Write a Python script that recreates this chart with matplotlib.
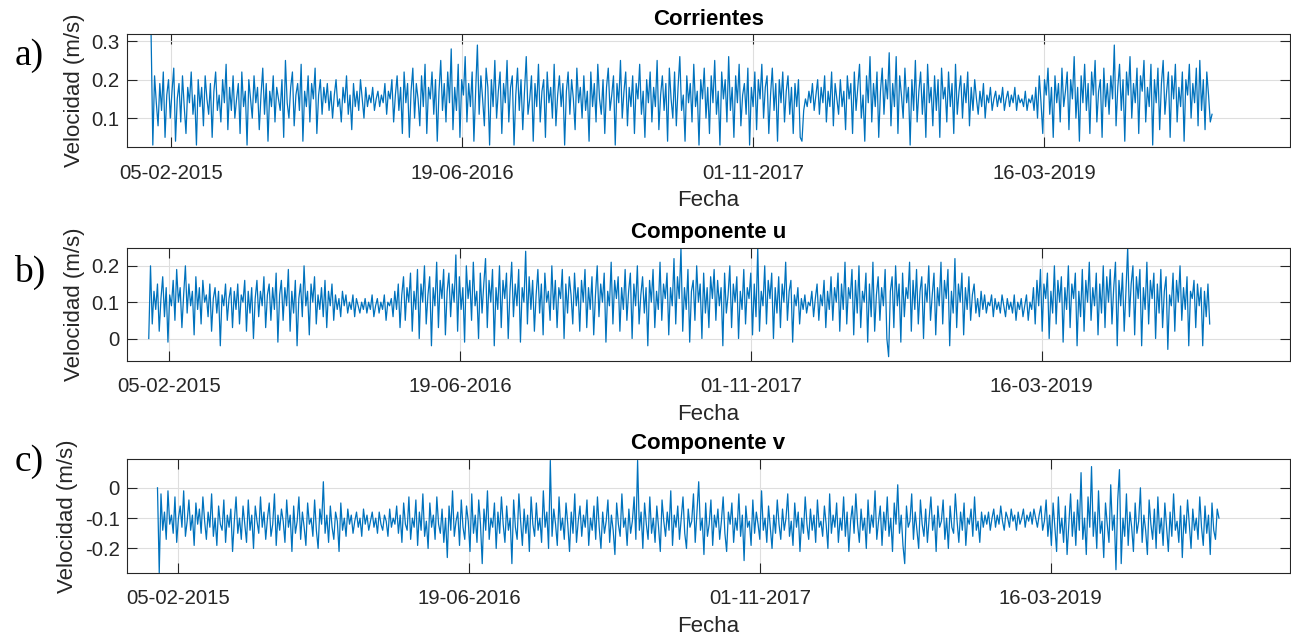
import matplotlib
matplotlib.use('Agg')
import matplotlib.pyplot as plt
import matplotlib.dates as mdates
import numpy as np
import pandas as pd

plt.rcParams['font.family'] = ['Liberation Sans', 'DejaVu Sans']
plt.rcParams['axes.unicode_minus'] = False

# series sampled every 3 days starting 2015-01-01
start = '2015-01-01'
step_days = 3

corrientes = [
    0.32, 0.03, 0.21, 0.14, 0.08, 0.19, 0.12, 0.22, 0.05, 0.16, 0.20, 0.10, 0.17, 0.23, 0.04, 0.15, 0.19, 0.09, 0.21, 0.13, 0.06, 0.18, 0.14, 0.22, 0.11,
    0.16, 0.03, 0.20, 0.13, 0.18, 0.08, 0.21, 0.15, 0.11, 0.19, 0.05, 0.17, 0.22, 0.12, 0.16, 0.09, 0.20, 0.14, 0.24, 0.07, 0.18, 0.12, 0.21, 0.10, 0.15,
    0.19, 0.06, 0.22, 0.13, 0.17, 0.03, 0.20, 0.15, 0.10, 0.21, 0.14, 0.18, 0.07, 0.16, 0.23, 0.11, 0.19, 0.04, 0.17, 0.13, 0.21, 0.09, 0.18, 0.15, 0.12,
    0.20, 0.05, 0.25, 0.14, 0.10, 0.18, 0.22, 0.08, 0.16, 0.19, 0.12, 0.24, 0.04, 0.17, 0.13, 0.21, 0.09, 0.19, 0.15, 0.23, 0.06, 0.16, 0.20, 0.11, 0.18,
    0.14, 0.19, 0.12, 0.17, 0.10, 0.16, 0.20, 0.13, 0.15, 0.09, 0.18, 0.14, 0.21, 0.11, 0.16, 0.07, 0.19, 0.13, 0.17, 0.12, 0.20, 0.15, 0.10, 0.18, 0.13,
    0.16, 0.14, 0.18, 0.12, 0.15, 0.17, 0.13, 0.16, 0.14, 0.19, 0.11, 0.17, 0.15, 0.20, 0.09, 0.16, 0.21, 0.12, 0.18, 0.06, 0.22, 0.14, 0.19, 0.05, 0.17,
    0.23, 0.10, 0.19, 0.15, 0.08, 0.21, 0.13, 0.24, 0.06, 0.18, 0.15, 0.22, 0.11, 0.20, 0.04, 0.17, 0.25, 0.12, 0.19, 0.09, 0.22, 0.14, 0.28, 0.07, 0.18,
    0.12, 0.24, 0.05, 0.20, 0.16, 0.26, 0.09, 0.19, 0.13, 0.22, 0.04, 0.17, 0.29, 0.11, 0.21, 0.15, 0.08, 0.23, 0.18, 0.03, 0.20, 0.13, 0.25, 0.10, 0.17,
    0.22, 0.06, 0.19, 0.14, 0.25, 0.09, 0.18, 0.21, 0.03, 0.16, 0.23, 0.12, 0.20, 0.07, 0.17, 0.26, 0.11, 0.15, 0.21, 0.04, 0.19, 0.13, 0.24, 0.09, 0.17,
    0.20, 0.05, 0.22, 0.14, 0.18, 0.10, 0.24, 0.08, 0.16, 0.21, 0.13, 0.19, 0.03, 0.17, 0.22, 0.11, 0.20, 0.15, 0.07, 0.23, 0.14, 0.18, 0.10, 0.21, 0.12,
    0.17, 0.04, 0.22, 0.13, 0.19, 0.09, 0.24, 0.15, 0.11, 0.20, 0.06, 0.18, 0.23, 0.12, 0.16, 0.21, 0.03, 0.19, 0.14, 0.25, 0.10, 0.17, 0.22, 0.08, 0.18,
    0.13, 0.21, 0.06, 0.19, 0.15, 0.24, 0.11, 0.17, 0.05, 0.20, 0.14, 0.22, 0.09, 0.18, 0.13, 0.25, 0.07, 0.16, 0.21, 0.12, 0.19, 0.04, 0.23, 0.15, 0.10,
    0.22, 0.08, 0.18, 0.26, 0.12, 0.16, 0.04, 0.21, 0.14, 0.19, 0.09, 0.24, 0.13, 0.17, 0.03, 0.20, 0.15, 0.23, 0.10, 0.18, 0.06, 0.21, 0.14, 0.25, 0.11,
    0.17, 0.03, 0.22, 0.15, 0.20, 0.09, 0.26, 0.12, 0.18, 0.05, 0.21, 0.14, 0.24, 0.08, 0.16, 0.19, 0.11, 0.23, 0.03, 0.18, 0.13, 0.22, 0.07, 0.20, 0.15,
    0.24, 0.10, 0.18, 0.21, 0.06, 0.16, 0.23, 0.12, 0.19, 0.04, 0.20, 0.14, 0.22, 0.09, 0.17, 0.21, 0.11, 0.18, 0.06, 0.19, 0.13, 0.20, 0.05, 0.04, 0.12,
    0.15, 0.13, 0.17, 0.14, 0.19, 0.12, 0.16, 0.20, 0.11, 0.18, 0.14, 0.21, 0.09, 0.17, 0.13, 0.22, 0.08, 0.19, 0.15, 0.11, 0.20, 0.13, 0.17, 0.07, 0.21,
    0.15, 0.19, 0.06, 0.22, 0.12, 0.18, 0.24, 0.10, 0.16, 0.04, 0.21, 0.14, 0.26, 0.09, 0.19, 0.13, 0.22, 0.05, 0.17, 0.23, 0.11, 0.20, 0.15, 0.27, 0.08,
    0.19, 0.13, 0.26, 0.06, 0.21, 0.16, 0.10, 0.23, 0.14, 0.18, 0.03, 0.20, 0.12, 0.25, 0.09, 0.17, 0.22, 0.11, 0.19, 0.05, 0.24, 0.14, 0.18, 0.08, 0.21,
    0.12, 0.20, 0.05, 0.23, 0.15, 0.18, 0.09, 0.22, 0.13, 0.19, 0.06, 0.24, 0.11, 0.17, 0.21, 0.10, 0.19, 0.14, 0.22, 0.08, 0.18, 0.12, 0.20, 0.15, 0.11,
    0.17, 0.13, 0.19, 0.10, 0.16, 0.14, 0.18, 0.12, 0.15, 0.17, 0.13, 0.16, 0.14, 0.18, 0.12, 0.15, 0.17, 0.13, 0.16, 0.14, 0.18, 0.12, 0.16, 0.14, 0.15,
    0.13, 0.17, 0.12, 0.15, 0.14, 0.16, 0.12, 0.18, 0.10, 0.21, 0.14, 0.06, 0.20, 0.16, 0.23, 0.11, 0.18, 0.05, 0.21, 0.14, 0.19, 0.09, 0.23, 0.13, 0.17,
    0.22, 0.07, 0.20, 0.15, 0.26, 0.10, 0.18, 0.04, 0.21, 0.14, 0.24, 0.12, 0.19, 0.06, 0.22, 0.16, 0.25, 0.09, 0.17, 0.20, 0.05, 0.23, 0.13, 0.19, 0.11,
    0.21, 0.15, 0.29, 0.08, 0.18, 0.24, 0.12, 0.20, 0.04, 0.22, 0.16, 0.26, 0.10, 0.19, 0.14, 0.23, 0.06, 0.21, 0.17, 0.25, 0.09, 0.18, 0.13, 0.24, 0.03,
    0.20, 0.14, 0.23, 0.07, 0.19, 0.25, 0.11, 0.17, 0.22, 0.05, 0.21, 0.15, 0.24, 0.09, 0.18, 0.13, 0.22, 0.04, 0.20, 0.16, 0.24, 0.10, 0.19, 0.14, 0.23,
    0.08, 0.25, 0.12, 0.20, 0.07, 0.22, 0.16, 0.09, 0.11,
]

comp_u = [
    0.00, 0.20, 0.04, 0.13, 0.08, 0.15, 0.02, 0.11, 0.17, 0.06, 0.14, -0.01, 0.12, 0.09, 0.16, 0.05, 0.19, 0.10, 0.14, 0.03, 0.12, 0.20, 0.07, 0.15, 0.09,
    0.13, 0.01, 0.17, 0.08, 0.14, 0.04, 0.16, 0.10, 0.12, 0.06, 0.15, 0.02, 0.11, 0.14, 0.07, 0.13, -0.02, 0.12, 0.09, 0.15, 0.05, 0.11, 0.14, 0.03, 0.13,
    0.08, 0.15, 0.04, 0.12, 0.10, 0.16, 0.02, 0.13, 0.07, 0.14, 0.00, 0.11, 0.16, 0.06, 0.13, 0.09, 0.17, 0.03, 0.12, 0.15, 0.05, 0.14, 0.08, 0.18, -0.01,
    0.12, 0.16, 0.05, 0.14, 0.09, 0.19, 0.02, 0.13, 0.07, 0.16, -0.02, 0.11, 0.15, 0.06, 0.20, 0.09, 0.13, 0.01, 0.15, 0.10, 0.17, 0.04, 0.12, 0.08, 0.14,
    0.06, 0.16, 0.03, 0.13, 0.09, 0.15, 0.05, 0.12, 0.08, 0.11, 0.06, 0.13, 0.09, 0.12, 0.07, 0.10, 0.08, 0.12, 0.06, 0.11, 0.09, 0.07, 0.10, 0.08, 0.11,
    0.07, 0.10, 0.08, 0.12, 0.06, 0.09, 0.11, 0.07, 0.10, 0.08, 0.12, 0.05, 0.10, 0.09, 0.11, 0.06, 0.13, 0.08, 0.15, 0.03, 0.12, 0.17, 0.05, 0.14, 0.10,
    0.18, 0.02, 0.13, 0.08, 0.19, 0.00, 0.15, 0.10, 0.20, 0.04, 0.12, 0.17, -0.02, 0.14, 0.09, 0.21, 0.03, 0.16, 0.11, 0.19, 0.01, 0.13, 0.18, 0.06, 0.15,
    0.10, 0.23, 0.02, 0.17, 0.08, 0.14, -0.01, 0.20, 0.11, 0.16, 0.05, 0.21, 0.09, 0.13, 0.00, 0.18, 0.07, 0.15, 0.22, 0.03, 0.16, 0.10, 0.19, -0.02, 0.14,
    0.08, 0.20, 0.03, 0.16, 0.11, 0.18, 0.00, 0.13, 0.21, 0.06, 0.15, 0.09, 0.19, -0.01, 0.14, 0.10, 0.24, 0.04, 0.17, 0.08, 0.16, 0.02, 0.12, 0.19, 0.07,
    0.15, 0.01, 0.18, 0.10, 0.13, 0.05, 0.20, 0.08, 0.16, 0.03, 0.14, 0.11, 0.19, 0.00, 0.15, 0.07, 0.17, 0.12, 0.04, 0.18, 0.09, 0.14, 0.02, 0.16, 0.10,
    0.19, 0.03, 0.14, 0.08, 0.17, 0.01, 0.12, 0.20, 0.06, 0.15, 0.10, 0.18, -0.01, 0.13, 0.09, 0.21, 0.04, 0.16, 0.11, 0.17, 0.02, 0.14, 0.08, 0.19, 0.05,
    0.13, 0.18, 0.00, 0.15, 0.09, 0.20, 0.04, 0.12, 0.17, 0.07, 0.14, -0.02, 0.16, 0.10, 0.19, 0.03, 0.13, 0.08, 0.21, 0.05, 0.15, 0.11, 0.18, 0.01, 0.14,
    0.09, 0.22, 0.04, 0.17, 0.11, 0.25, 0.02, 0.14, 0.08, 0.19, -0.01, 0.13, 0.16, 0.05, 0.20, 0.10, 0.15, 0.00, 0.18, 0.07, 0.14, 0.03, 0.17, 0.11, 0.19,
    0.05, 0.16, 0.09, 0.14, -0.02, 0.18, 0.07, 0.12, 0.20, 0.03, 0.15, 0.10, 0.17, 0.00, 0.13, 0.08, 0.19, 0.04, 0.14, 0.11, 0.18, 0.01, 0.15, 0.06, 0.25,
    0.02, 0.13, 0.09, 0.20, 0.04, 0.16, 0.11, 0.18, 0.00, 0.14, 0.07, 0.17, 0.03, 0.15, 0.10, 0.21, 0.05, 0.13, 0.16, -0.01, 0.12, 0.09, 0.14, 0.04, 0.11,
    0.08, 0.12, 0.07, 0.10, 0.09, 0.13, 0.06, 0.11, 0.15, 0.05, 0.12, 0.09, 0.16, 0.03, 0.13, 0.08, 0.17, 0.05, 0.14, 0.10, 0.18, 0.02, 0.15, 0.08, 0.21,
    0.04, 0.14, 0.11, 0.19, 0.01, 0.16, 0.07, 0.20, 0.03, 0.13, 0.10, 0.18, -0.01, 0.15, 0.06, 0.21, 0.02, 0.12, 0.17, 0.05, 0.14, 0.09, 0.19, 0.00, -0.05,
    0.13, 0.17, 0.03, 0.20, 0.09, 0.15, -0.01, 0.18, 0.06, 0.14, 0.11, 0.21, 0.02, 0.16, 0.08, 0.19, 0.04, 0.13, 0.17, 0.00, 0.15, 0.10, 0.20, 0.05, 0.12,
    0.18, 0.01, 0.14, 0.09, 0.21, 0.04, 0.16, 0.11, 0.19, -0.02, 0.13, 0.07, 0.22, 0.03, 0.15, 0.10, 0.18, 0.01, 0.14, 0.08, 0.17, 0.05, 0.12, 0.15, 0.07,
    0.11, 0.06, 0.13, 0.08, 0.12, 0.07, 0.10, 0.09, 0.12, 0.06, 0.11, 0.08, 0.10, 0.07, 0.12, 0.09, 0.06, 0.11, 0.08, 0.10, 0.07, 0.12, 0.05, 0.10, 0.08,
    0.11, 0.06, 0.09, 0.12, 0.05, 0.10, 0.08, 0.14, 0.04, 0.16, 0.09, 0.19, 0.02, 0.15, 0.11, 0.18, 0.00, 0.13, 0.07, 0.20, 0.04, 0.16, 0.10, 0.17, -0.01,
    0.14, 0.08, 0.20, 0.03, 0.15, 0.11, 0.18, -0.02, 0.13, 0.06, 0.19, 0.02, 0.16, 0.10, 0.21, 0.05, 0.14, 0.09, 0.18, 0.01, 0.15, 0.07, 0.20, 0.03, 0.17,
    0.10, 0.19, 0.04, 0.14, 0.21, -0.02, 0.16, 0.09, 0.18, 0.02, 0.13, 0.25, 0.06, 0.15, 0.20, 0.01, 0.17, 0.11, 0.19, -0.02, 0.14, 0.08, 0.21, 0.04, 0.16,
    0.11, 0.18, 0.00, 0.15, 0.07, 0.19, 0.03, 0.13, 0.17, -0.03, 0.12, 0.09, 0.18, 0.02, 0.16, 0.10, 0.20, 0.05, 0.14, 0.08, 0.17, -0.02, 0.13, 0.11, 0.16,
    0.03, 0.15, 0.09, 0.14, -0.02, 0.13, 0.06, 0.15, 0.04,
]

comp_v = [
    0.00, -0.28, -0.02, -0.14, -0.08, -0.17, -0.01, -0.12, -0.09, -0.15, -0.03, -0.18, -0.10, -0.06, -0.13, -0.01, -0.16, -0.11, -0.04, -0.14, -0.09, -0.19, -0.05, -0.12, -0.07,
    -0.15, -0.03, -0.11, -0.17, -0.08, -0.13, -0.02, -0.16, -0.10, -0.19, -0.06, -0.12, -0.14, -0.04, -0.18, -0.09, -0.13, -0.07, -0.21, -0.11, -0.03, -0.15, -0.10, -0.17, -0.06,
    -0.12, -0.18, -0.04, -0.14, -0.09, -0.20, -0.06, -0.11, -0.15, -0.03, -0.13, -0.08, -0.17, -0.10, -0.05, -0.16, -0.12, -0.02, -0.19, -0.09, -0.14, -0.07, -0.11, -0.18, -0.04,
    -0.13, -0.09, -0.21, -0.06, -0.15, -0.11, -0.03, -0.17, -0.08, -0.13, -0.19, -0.05, -0.12, -0.10, -0.16, -0.04, -0.14, -0.20, -0.07, -0.12, 0.02, -0.15, -0.09, -0.18, -0.06,
    -0.13, -0.17, -0.08, -0.11, -0.21, -0.05, -0.14, -0.10, -0.16, -0.07, -0.12, -0.09, -0.15, -0.11, -0.08, -0.13, -0.10, -0.16, -0.07, -0.12, -0.09, -0.14, -0.11, -0.08, -0.13,
    -0.10, -0.15, -0.08, -0.12, -0.14, -0.09, -0.11, -0.16, -0.07, -0.13, -0.10, -0.12, -0.06, -0.15, -0.09, -0.18, -0.05, -0.12, -0.14, -0.03, -0.17, -0.10, -0.13, -0.04, -0.19,
    -0.08, -0.14, -0.02, -0.16, -0.11, -0.20, -0.05, -0.13, -0.09, -0.17, -0.03, -0.12, -0.15, -0.07, -0.18, -0.10, -0.23, -0.06, -0.14, -0.01, -0.16, -0.11, -0.08, -0.19, -0.04,
    -0.13, -0.17, -0.06, -0.11, -0.21, -0.02, -0.15, -0.09, -0.18, -0.04, -0.12, -0.25, -0.07, -0.14, -0.01, -0.17, -0.10, -0.13, -0.05, -0.20, -0.08, -0.15, -0.03, -0.12, -0.18,
    -0.06, -0.14, -0.10, -0.25, -0.04, -0.13, -0.17, -0.02, -0.11, -0.19, -0.07, -0.15, -0.09, -0.21, -0.03, -0.12, -0.16, -0.05, -0.14, -0.10, -0.18, -0.01, -0.13, -0.08, -0.20,
    0.09, -0.16, -0.07, -0.12, -0.19, -0.03, -0.14, -0.10, -0.17, -0.05, -0.12, -0.21, -0.08, -0.15, -0.02, -0.18, -0.11, -0.06, -0.16, -0.09, -0.13, -0.04, -0.19, -0.10, -0.14,
    -0.06, -0.17, -0.03, -0.13, -0.20, -0.08, -0.15, -0.11, -0.04, -0.18, -0.09, -0.14, -0.22, -0.05, -0.12, -0.16, -0.02, -0.13, -0.10, -0.19, -0.07, -0.15, -0.11, -0.03, -0.17,
    0.09, -0.14, -0.08, -0.20, -0.05, -0.12, -0.17, -0.03, -0.15, -0.10, -0.18, -0.06, -0.13, -0.21, -0.04, -0.11, -0.16, -0.08, -0.14, -0.01, -0.19, -0.09, -0.13, -0.06, -0.17,
    -0.10, -0.03, -0.15, -0.20, -0.07, -0.13, -0.11, -0.02, -0.18, -0.08, 0.02, -0.14, -0.10, -0.22, -0.05, -0.16, -0.12, -0.04, -0.19, -0.09, -0.13, -0.07, -0.17, -0.11, -0.03,
    -0.15, -0.21, -0.08, -0.12, -0.05, -0.18, -0.10, -0.14, -0.02, -0.16, -0.09, -0.24, -0.06, -0.13, -0.11, -0.19, -0.04, -0.15, -0.08, -0.12, -0.17, -0.01, -0.14, -0.10, -0.18,
    -0.06, -0.13, -0.20, -0.09, -0.15, -0.04, -0.12, -0.17, -0.07, -0.14, -0.10, -0.02, -0.16, -0.11, -0.19, -0.05, -0.13, -0.08, -0.21, -0.10, -0.15, -0.03, -0.12, -0.17, -0.07,
    -0.14, -0.09, -0.18, -0.04, -0.13, -0.11, -0.16, -0.06, -0.12, -0.20, -0.02, -0.15, -0.09, -0.13, -0.05, -0.18, -0.10, -0.14, -0.03, -0.16, -0.08, -0.21, -0.11, -0.06, -0.15,
    -0.02, -0.12, -0.18, -0.07, -0.14, -0.10, -0.20, -0.04, -0.15, -0.09, -0.13, -0.01, -0.17, -0.11, -0.06, -0.19, -0.08, -0.14, -0.03, -0.16, -0.10, -0.21, -0.05, -0.12, 0.01,
    -0.15, -0.09, -0.19, -0.25, -0.06, -0.13, -0.11, -0.02, -0.17, -0.08, -0.14, -0.20, -0.04, -0.12, -0.16, -0.07, -0.18, -0.10, -0.03, -0.14, -0.09, -0.21, -0.06, -0.13, -0.11,
    -0.04, -0.17, -0.10, -0.20, -0.06, -0.13, -0.15, -0.02, -0.11, -0.18, -0.08, -0.14, -0.05, -0.19, -0.10, -0.12, -0.07, -0.16, -0.03, -0.14, -0.11, -0.18, -0.08, -0.13, -0.09,
    -0.12, -0.08, -0.14, -0.10, -0.07, -0.13, -0.09, -0.12, -0.06, -0.11, -0.14, -0.08, -0.10, -0.13, -0.07, -0.11, -0.09, -0.14, -0.08, -0.12, -0.10, -0.07, -0.13, -0.09, -0.11,
    -0.08, -0.12, -0.07, -0.10, -0.13, -0.09, -0.06, -0.14, -0.11, -0.04, -0.16, -0.09, -0.19, -0.05, -0.13, -0.21, -0.03, -0.15, -0.10, -0.18, -0.06, -0.22, -0.12, -0.02, -0.16,
    -0.08, -0.19, -0.04, -0.14, 0.05, -0.17, -0.10, -0.22, -0.03, -0.13, 0.07, -0.16, -0.08, -0.20, -0.01, -0.15, -0.11, -0.23, -0.05, -0.12, -0.18, 0.01, -0.14, -0.09, -0.27,
    -0.04, 0.06, -0.25, -0.10, -0.16, -0.02, -0.19, -0.08, -0.13, -0.21, -0.05, -0.15, -0.11, 0.00, -0.18, -0.09, -0.14, -0.22, -0.04, -0.12, -0.17, -0.07, -0.20, -0.03, -0.15,
    -0.10, -0.19, -0.05, -0.13, -0.21, -0.08, -0.16, -0.02, -0.14, -0.11, -0.18, -0.06, -0.23, -0.09, -0.15, -0.04, -0.12, -0.20, -0.07, -0.14, -0.10, -0.17, -0.03, -0.13, -0.19,
    -0.06, -0.15, -0.09, -0.22, -0.05, -0.14, -0.17, -0.07, -0.10,
]

titles = ['Corrientes', 'Componente u', 'Componente v']
panel_tags = ['a)', 'b)', 'c)']
series = [corrientes, comp_u, comp_v]
y_limits = [(0.025, 0.318), (-0.061, 0.25), (-0.28, 0.095)]
y_ticks = [[0.1, 0.2, 0.3], [0, 0.1, 0.2], [-0.2, -0.1, 0]]
y_ticklabels = [['0.1', '0.2', '0.3'], ['0', '0.1', '0.2'], ['-0.2', '-0.1', '0']]
x_limits = [('2014-11-20', '2020-05-12'),
            ('2014-11-24', '2020-05-16'),
            ('2014-11-09', '2020-04-30')]
x_ticks = ['2015-02-05', '2016-06-19', '2017-11-01', '2019-03-16']

line_color = '#0072BD'
axis_color = '#262626'

fig = plt.figure(figsize=(12.91, 6.36), dpi=100)

# axes boxes in figure fractions: left, bottom, width, height
boxes = [[0.0981, 0.7689, 0.9011, 0.1772],
         [0.0981, 0.4329, 0.9011, 0.1777],
         [0.0981, 0.0995, 0.9011, 0.1788]]
tag_y = [0.912, 0.571, 0.274]

for i in range(3):
    ax = fig.add_axes(boxes[i])
    vals = np.array(series[i])
    dates = pd.Timestamp(start) + pd.to_timedelta(np.arange(len(vals)) * step_days, unit='D')
    ax.plot(dates, vals, color=line_color, linewidth=0.9)

    ax.set_xlim(pd.Timestamp(x_limits[i][0]), pd.Timestamp(x_limits[i][1]))
    ax.set_ylim(*y_limits[i])
    ax.set_xticks([pd.Timestamp(d) for d in x_ticks])
    ax.xaxis.set_major_formatter(mdates.DateFormatter('%d-%m-%Y'))
    ax.set_yticks(y_ticks[i])
    ax.set_yticklabels(y_ticklabels[i])

    ax.grid(True, color='#dedede', linewidth=0.8)
    ax.set_axisbelow(True)
    ax.tick_params(direction='in', top=True, right=True, length=7.5, width=0.8,
                   colors=axis_color, labelsize=14.7, pad=5)
    ax.tick_params(axis='x', pad=12)
    for sp in ax.spines.values():
        sp.set_color(axis_color)
        sp.set_linewidth(0.8)

    ax.set_title(titles[i], fontsize=16, fontweight='bold', pad=7)
    ax.set_xlabel('Fecha', fontsize=16, color=axis_color, labelpad=5.6)
    ax.set_ylabel('Velocidad (m/s)', fontsize=16, color=axis_color, labelpad=5)

    fig.text(0.0228, tag_y[i], panel_tags[i], fontsize=27, family='Liberation Serif',
             ha='center', va='center')

fig.savefig('out.png', dpi=100)
